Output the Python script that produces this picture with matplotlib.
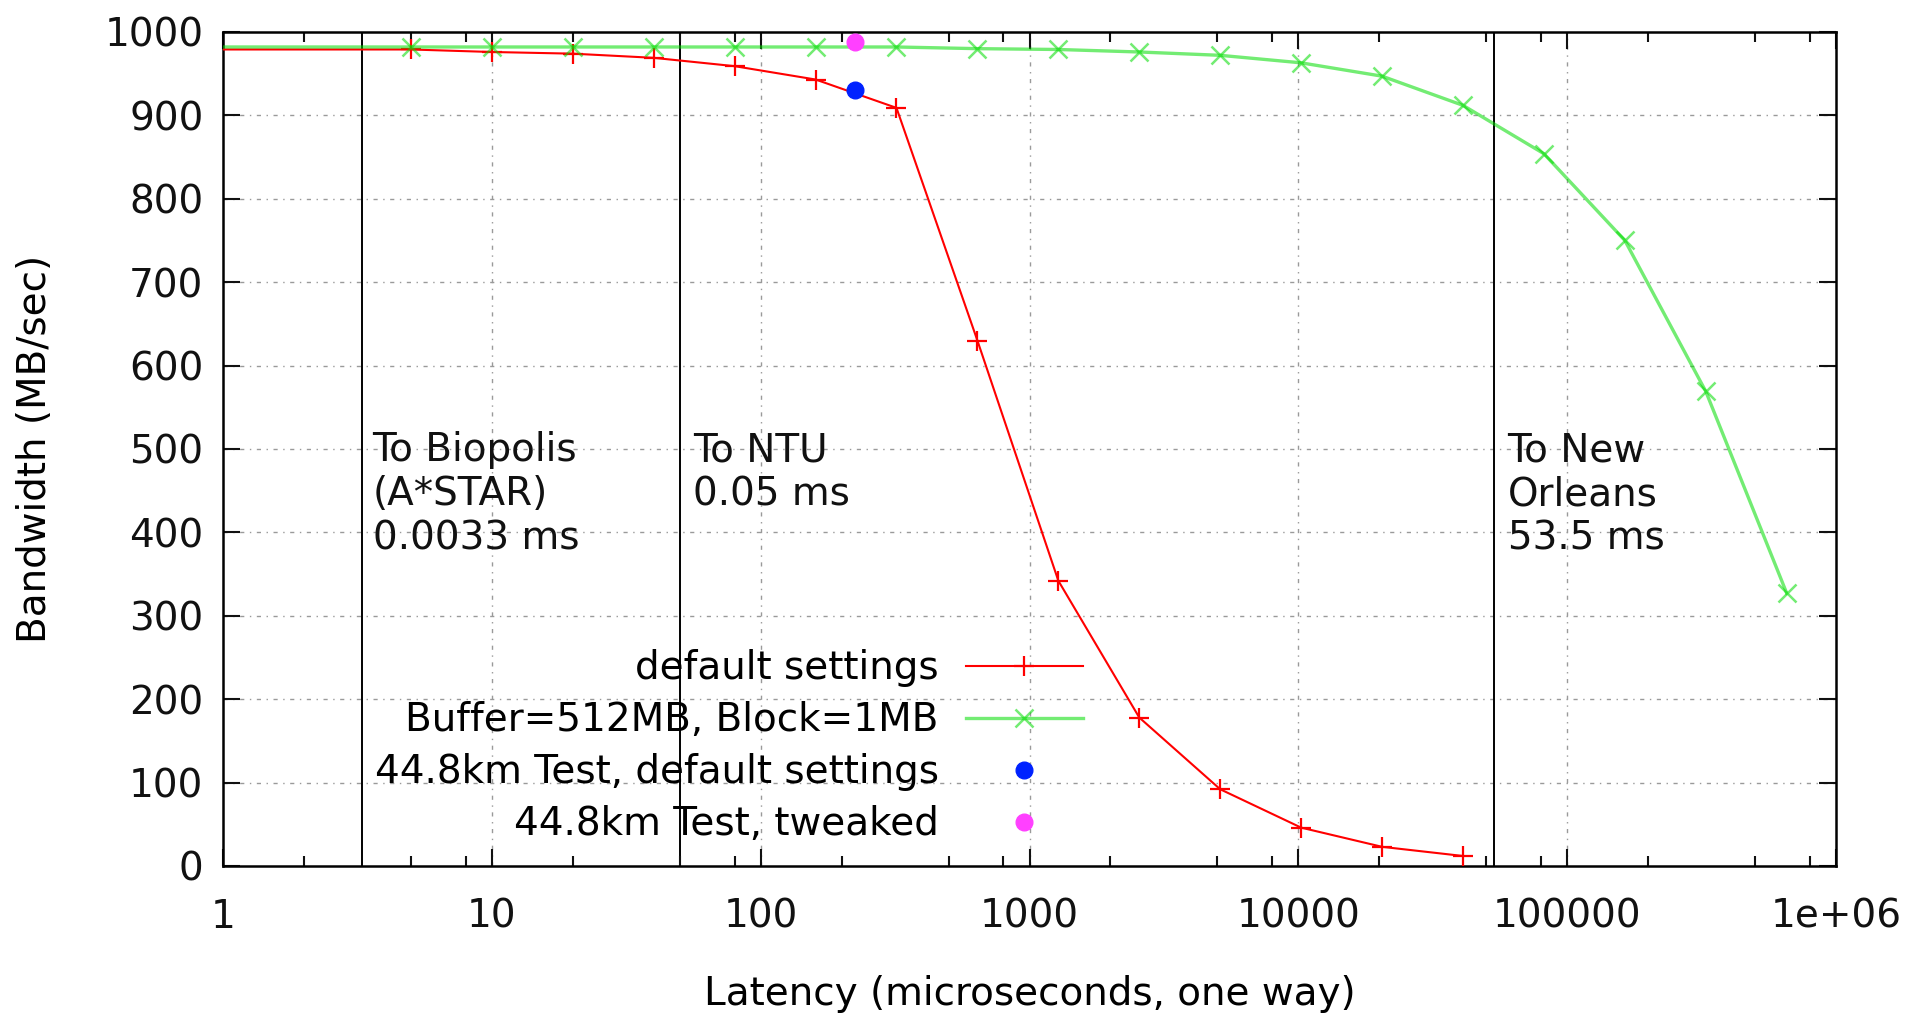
import numpy as np
import matplotlib
matplotlib.use('Agg')
import matplotlib.pyplot as plt
from matplotlib.ticker import FixedLocator, FixedFormatter, NullFormatter

# latency in microseconds (one way), bandwidth in MB/sec
latency_default = [1, 5, 10, 20, 40, 80, 160, 320, 640, 1280, 2560, 5120,
                   10240, 20480, 40960]
bw_default = [979, 979, 976, 974, 969, 959, 943, 909, 630, 342, 178, 92,
              46, 23, 12]

latency_tuned = [1, 5, 10, 20, 40, 80, 160, 320, 640, 1280, 2560, 5120,
                 10240, 20480, 40960, 81920, 163840, 327680, 655360]
bw_tuned = [982, 982, 982, 982, 982, 982, 982, 982, 980, 979, 976, 972,
            963, 947, 912, 854, 750, 569, 327]

test_latency = [224]
test_default_bw = [930]
test_tweaked_bw = [988]

site_latency = [3.3, 50, 53500]
site_label_x = [3.6, 56, 60000]
site_labels = ['To Biopolis\n(A*STAR)\n0.0033 ms', 'To NTU\n0.05 ms',
               'To New\nOrleans\n53.5 ms']

x_ticks = [1, 10, 100, 1000, 10000, 100000, 1000000]
x_tick_labels = ['1', '10', '100', '1000', '10000', '100000', '1e+06']
x_minor = [m * 10 ** k for k in range(6) for m in (2, 5, 8)]
y_ticks = list(range(0, 1001, 100))

fs = 28
plt.rcParams['font.family'] = 'DejaVu Sans'

fig = plt.figure(figsize=(19.09, 10.15), dpi=100)
ax = fig.add_axes([0.1168, 0.1468, 0.8450, 0.8217])

ax.set_xscale('log')
ax.set_xlim(1, 1e6)
ax.set_ylim(0, 1000)

# grid
grid_style = dict(color='#9a9a9a', lw=1.0, dashes=(3, 4, 1, 4), zorder=0)
for xv in x_ticks[1:-1]:
    ax.axvline(xv, **grid_style)
for yv in y_ticks[1:-1]:
    ax.axhline(yv, **grid_style)

# site markers
for xv, xl, txt in zip(site_latency, site_label_x, site_labels):
    ax.axvline(xv, color='black', lw=1.4, zorder=1)
    ax.text(xl, 521, txt, fontsize=fs, ha='left', va='top',
            linespacing=1.2, color='#111111', zorder=2)

h1, = ax.plot(latency_default, bw_default, color='#ff0000', lw=1.5,
              marker='+', ms=15, mew=1.6, markevery=slice(1, None), zorder=3)
h2, = ax.plot(latency_tuned, bw_tuned, color='#00dd00', lw=2.4, alpha=0.55,
              marker='x', ms=13, mew=1.8, markevery=slice(1, None), zorder=4)
h3, = ax.plot(test_latency, test_default_bw, ls='none', marker='o', ms=12,
              color='#0022ff', zorder=5)
h4, = ax.plot(test_latency, test_tweaked_bw, ls='none', marker='o', ms=12,
              color='#ff40ff', zorder=5)

ax.legend([h1, h2, h3, h4],
          ['default settings', 'Buffer=512MB, Block=1MB',
           '44.8km Test, default settings', '44.8km Test, tweaked'],
          loc='lower right', bbox_to_anchor=(0.533, 0.027), frameon=False,
          markerfirst=False, handlelength=3.0, handletextpad=0.7,
          labelspacing=0.36, borderpad=0, borderaxespad=0, numpoints=1,
          fontsize=fs)

ax.xaxis.set_major_locator(FixedLocator(x_ticks))
ax.xaxis.set_major_formatter(FixedFormatter(x_tick_labels))
ax.xaxis.set_minor_locator(FixedLocator(x_minor))
ax.xaxis.set_minor_formatter(NullFormatter())
ax.set_yticks(y_ticks)
ax.yaxis.set_minor_locator(FixedLocator([]))

ax.tick_params(which='both', direction='in', top=True, right=True,
               width=1.5, labelsize=fs, colors='#111111')
ax.tick_params(which='major', length=12)
ax.tick_params(which='minor', length=7)
ax.tick_params(axis='x', which='major', pad=23)
ax.tick_params(axis='y', which='major', pad=14)

for sp in ax.spines.values():
    sp.set_linewidth(1.8)

ax.set_xlabel('Latency (microseconds, one way)', fontsize=fs, labelpad=28)
ax.set_ylabel('Bandwidth (MB/sec)', fontsize=fs, labelpad=36)

fig.savefig('out.png', dpi=100)
